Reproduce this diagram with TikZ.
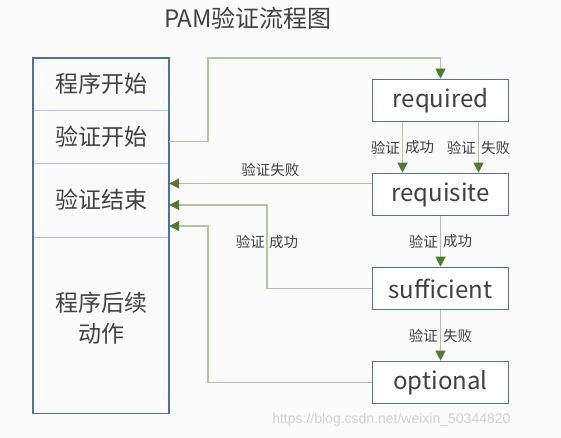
\documentclass[tikz,border=0pt]{standalone}
\usepackage{fontspec}
\setmainfont{Noto Sans CJK SC}
\newfontfamily\wmfont{Liberation Sans}
\usetikzlibrary{arrows.meta,positioning}

\definecolor{boxblue}{HTML}{4A72A6}
\definecolor{sepblue}{HTML}{A9C6E4}
\definecolor{linkgreen}{HTML}{B3C39E}
\definecolor{tipgreen}{HTML}{4F7D2B}
\definecolor{textgray}{HTML}{404040}

\tikzset{
  modbox/.style={draw=boxblue, line width=1.6pt, fill=white, minimum width=136pt,
    minimum height=42pt, inner sep=0pt, text=textgray, font=\fontsize{24}{28}\selectfont},
  cell/.style={minimum width=136pt, inner sep=0pt, text=textgray,
    font=\fontsize{23}{31}\selectfont, align=center},
  link/.style={draw=linkgreen, line width=1.2pt, -{Triangle[length=10pt,width=10pt,color=tipgreen]}},
  tag/.style={font=\fontsize{14.5}{16}\selectfont, text=textgray, inner sep=2pt}
}

\begin{document}
\begin{tikzpicture}[x=1pt,y=-1pt]
    \useasboundingbox[fill=white!97!gray] (0,0) rectangle (561,438);

    % title
    \node[text=textgray, font=\fontsize{24}{28}\selectfont] (title) at (248,18) {PAM验证流程图};

    % left column: program steps
    \node[cell, minimum height=52pt] (cbegin) at (101,84) {程序开始};
    \node[cell, minimum height=53pt] (cauth) at (101,136.5) {验证开始};
    \node[cell, minimum height=74pt] (cend) at (101,200) {验证结束};
    \node[cell, minimum height=176pt, anchor=north] (cafter) at (101,237) {};
    \node[cell] (cafterlbl) at (101,318) {程序后续\\动作};
    \draw[sepblue, line width=1pt] (cbegin.south west) -- (cbegin.south east);
    \draw[sepblue, line width=1pt] (cauth.south west) -- (cauth.south east);
    \draw[sepblue, line width=1pt] (cend.south west) -- (cend.south east);
    \draw[boxblue, line width=1.6pt] (cbegin.north west) rectangle (cafter.south east);

    % right column: control flags
    \node[modbox] (required) at (440.5,100.5) {required};
    \node[modbox] (requisite) at (440.5,194.5) {requisite};
    \node[modbox] (sufficient) at (440.5,288.5) {sufficient};
    \node[modbox] (optional) at (440.5,382.5) {optional};

    % bends of the return lines
    \coordinate (ctop) at (208,58);
    \coordinate (csuff) at (267,205);
    \coordinate (copt) at (208,226);

    % start -> required
    \draw[link] ([yshift=-5pt]cauth.east) -| (ctop) -| (required.north);

    % required -> requisite
    \draw[link] ([xshift=-38pt]required.south) -- ([xshift=-38pt]requisite.north)
        node[tag, midway, left] {验证} node[tag, midway, right] {成功};
    \draw[link] ([xshift=38pt]required.south) -- ([xshift=38pt]requisite.north)
        node[tag, midway, left] {验证} node[tag, midway, right] {失败};

    % requisite -> sufficient -> optional
    \draw[link] (requisite.south) -- (sufficient.north)
        node[tag, midway, left] {验证} node[tag, midway, right] {成功};
    \draw[link] (sufficient.south) -- (optional.north)
        node[tag, midway, left] {验证} node[tag, midway, right] {失败};

    % back to the end of the check
    \draw[link] ([yshift=11pt]requisite.west) -- ([yshift=11pt]requisite.west -| cend.east)
        node[tag, pos=0.5, above=4pt] {验证失败};
    \draw[link] (sufficient.west) -| (csuff) -- (csuff -| cend.east);
    \node[tag, left] (sufflbl1) at (267,242) {验证};
    \node[tag, right] (sufflbl2) at (267,242) {成功};
    \draw[link] (optional.west) -| (copt) -- (copt -| cend.east);

    % watermark
    \node[text=black!18, font=\wmfont\fontsize{14}{16}\selectfont, anchor=east] (mark) at (514,420)
        {https://blog.csdn.net/weixin\_50344820};
\end{tikzpicture}
\end{document}
